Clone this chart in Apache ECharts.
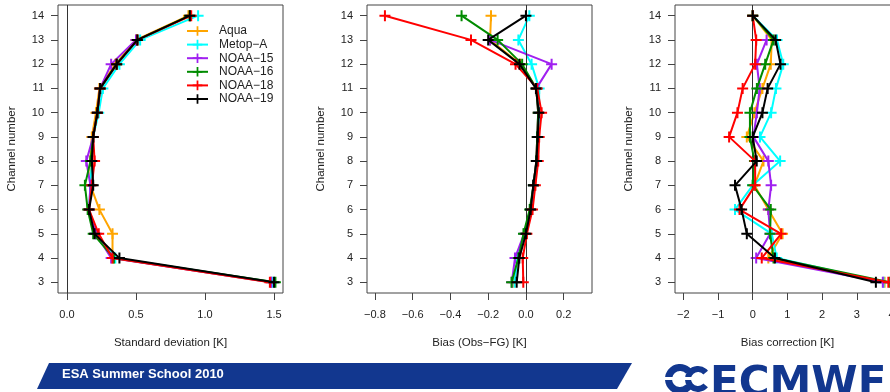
<!DOCTYPE html>
<html>
<head>
<meta charset="utf-8">
<script src="https://cdn.jsdelivr.net/npm/echarts@6/dist/echarts.min.js"></script>
<style>
  html, body { margin: 0; padding: 0; background: #fff; }
  #chart { width: 890px; height: 392px; }
</style>
</head>
<body>
<div id="chart"></div>
<script>
// HIRS channels 3-14, statistics per satellite
const channels = [3, 4, 5, 6, 7, 8, 9, 10, 11, 12, 13, 14];
const satellites = ['Aqua', 'Metop\u2212A', 'NOAA\u221215', 'NOAA\u221216', 'NOAA\u221218', 'NOAA\u221219'];
const satColors = ['#FFA500', '#00FFFF', '#A020F0', '#008B00', '#FF0000', '#000000'];

// Standard deviation of (Obs - FG) [K]
const stdAqua   = [1.48, 0.33, 0.33, 0.235, 0.17, 0.17, 0.18, 0.21, 0.235, 0.35, 0.50, 0.88];
const stdMetopA = [1.49, 0.35, 0.21, 0.16, 0.17, 0.18, 0.19, 0.23, 0.26, 0.38, 0.53, 0.95];
const stdNoaa15 = [1.48, 0.32, 0.21, 0.16, 0.17, 0.14, 0.19, 0.22, 0.24, 0.32, 0.50, null];
const stdNoaa16 = [1.51, 0.34, 0.19, 0.15, 0.13, 0.17, 0.19, 0.22, 0.24, 0.36, 0.51, 0.89];
const stdNoaa18 = [1.47, 0.33, 0.23, 0.16, 0.18, 0.20, 0.19, 0.22, 0.24, 0.36, 0.51, 0.90];
const stdNoaa19 = [1.50, 0.38, 0.20, 0.16, 0.19, 0.18, 0.19, 0.22, 0.24, 0.36, 0.51, 0.89];

// Mean bias (Obs - FG) [K]
const biasAqua   = [-0.07, -0.04, -0.005, 0.025, 0.04, 0.055, 0.06, 0.065, 0.055, -0.03, -0.19, -0.185];
const biasMetopA = [-0.06, -0.045, -0.005, 0.025, 0.04, 0.06, 0.065, 0.07, 0.07, 0.03, -0.04, 0.018];
const biasNoaa15 = [-0.075, -0.058, -0.01, 0.025, 0.04, 0.055, 0.06, 0.065, 0.055, 0.136, -0.19, null];
const biasNoaa16 = [-0.076, -0.04, -0.013, 0.02, 0.04, 0.055, 0.06, 0.065, 0.055, -0.02, -0.15, -0.341];
const biasNoaa18 = [-0.014, -0.017, 0.005, 0.035, 0.05, 0.065, 0.07, 0.083, 0.06, -0.055, -0.291, -0.747];
const biasNoaa19 = [-0.049, -0.035, 0.0, 0.025, 0.039, 0.056, 0.062, 0.068, 0.053, -0.034, -0.2, 0.0];

// Mean bias correction [K]
const bcAqua   = [3.80, 0.45, 0.86, 0.45, 0.05, 0.31, -0.17, 0.05, 0.28, 0.52, 0.55, 0];
const bcMetopA = [3.77, 0.69, 0.55, -0.51, 0.0, 0.79, 0.21, 0.53, 0.67, 0.88, 0.70, 0];
const bcNoaa15 = [3.75, 0.10, 0.50, 0.45, 0.53, 0.45, 0.02, 0.12, 0.20, 0.12, 0.40, null];
const bcNoaa16 = [3.96, 0.60, 0.50, 0.52, 0.0, 0.05, -0.08, -0.08, 0.12, 0.36, 0.60, 0];
const bcNoaa18 = [3.91, 0.26, 0.82, -0.38, 0.07, 0.07, -0.68, -0.44, -0.29, 0.07, 0.10, 0];
const bcNoaa19 = [3.55, 0.64, -0.17, -0.32, -0.51, 0.115, 0.0, 0.28, 0.43, 0.80, 0.66, 0];

// Tick labels
const stdTicks  = [0, 0.5, 1.0, 1.5];
const biasTicks = [-0.8, -0.6, -0.4, -0.2, 0.0, 0.2];
const bcTicks   = [-2, -1, 0, 1, 2, 3, 4];

const panels = [
  { title: 'Standard deviation [K]', sets: [stdAqua, stdMetopA, stdNoaa15, stdNoaa16, stdNoaa18, stdNoaa19],
    min: -0.065, max: 1.565, ticks: stdTicks, digits: 1, left: 58 },
  { title: 'Bias (Obs\u2212FG) [K]', sets: [biasAqua, biasMetopA, biasNoaa15, biasNoaa16, biasNoaa18, biasNoaa19],
    min: -0.842, max: 0.35, ticks: biasTicks, digits: 1, left: 367 },
  { title: 'Bias correction [K]', sets: [bcAqua, bcMetopA, bcNoaa15, bcNoaa16, bcNoaa18, bcNoaa19],
    min: -2.24, max: 4.245, ticks: bcTicks, digits: 0, left: 675 }
];

const FONT = '"Liberation Sans", Arial, Helvetica, sans-serif';
const TEXT = '#222';
const PLUS = 'path://M4.5,0H6.5V4.5H11V6.5H6.5V11H4.5V6.5H0V4.5H4.5Z';
const fmt = (v, d) => (d ? v.toFixed(d) : String(Math.round(v))).replace('-', '\u2212');

const grid = [], xAxis = [], yAxis = [], series = [];
panels.forEach((p, pi) => {
  grid.push({ left: p.left, top: 5, width: 225, height: 288, show: true,
              outerBoundsMode: 'none', containLabel: false,
              borderColor: '#444', borderWidth: 1, backgroundColor: 'transparent' });
  xAxis.push({
    type: 'value', gridIndex: pi, min: p.min, max: p.max,
    name: p.title, nameLocation: 'middle', nameGap: 44,
    nameTextStyle: { fontFamily: FONT, fontSize: 11.5, color: TEXT },
    axisLine: { show: false, onZero: false }, splitLine: { show: false },
    axisTick: { show: true, inside: false, length: 7, customValues: p.ticks, lineStyle: { color: '#444' } },
    axisLabel: { customValues: p.ticks, margin: 16, fontFamily: FONT, fontSize: 11, color: TEXT,
                 formatter: v => fmt(v, p.digits) }
  });
  yAxis.push({
    type: 'value', gridIndex: pi, min: 2.56, max: 14.44,
    name: 'Channel number', nameLocation: 'middle', nameGap: 40, nameRotate: 90,
    nameTextStyle: { fontFamily: FONT, fontSize: 11.5, color: TEXT },
    axisLine: { show: false, onZero: false }, splitLine: { show: false },
    axisTick: { show: true, inside: false, length: 7, customValues: channels, lineStyle: { color: '#444' } },
    axisLabel: { customValues: channels, margin: 14, fontFamily: FONT, fontSize: 11, color: TEXT,
                 formatter: v => String(Math.round(v)) }
  });
  p.sets.forEach((vals, si) => {
    const s = {
      name: satellites[si], type: 'line', xAxisIndex: pi, yAxisIndex: pi,
      data: channels.map((c, k) => [vals[k], c]),
      connectNulls: false,
      symbol: PLUS, symbolSize: 11, showSymbol: true,
      lineStyle: { color: satColors[si], width: 2 },
      itemStyle: { color: satColors[si] },
      emphasis: { disabled: true },
      animation: false, z: 2 + si
    };
    if (si === 0) {
      // vertical reference line at zero
      s.markLine = { silent: true, symbol: ['none', 'none'], label: { show: false },
                     lineStyle: { color: '#333', width: 1, type: 'solid' },
                     data: [{ xAxis: 0 }], animation: false };
    }
    series.push(s);
  });
});

const chart = echarts.init(document.getElementById('chart'), null, { renderer: 'canvas' });
chart.setOption({
  backgroundColor: '#ffffff',
  animation: false,
  grid, xAxis, yAxis, series,
  legend: {
    data: satellites, orient: 'vertical', left: 186, top: 25, padding: 0,
    itemWidth: 21, itemHeight: 12, itemGap: 1.6,
    textStyle: { fontFamily: FONT, fontSize: 12, color: TEXT, padding: [0, 0, 0, 6] },
    selectedMode: false
  },
  graphic: [
    // footer banner
    { type: 'polygon', silent: true,
      shape: { points: [[49, 363], [632, 363], [617, 389], [37, 389]] },
      style: { fill: '#12378F' } },
    { type: 'text', silent: true, x: 62, y: 374,
      style: { text: 'ESA Summer School 2010', fill: '#ffffff',
               font: 'bold 13px "Liberation Sans", Arial, sans-serif', verticalAlign: 'middle' } },
    // ECMWF logo
    { type: 'sector', silent: true,
      shape: { cx: 680, cy: 379, r: 15, r0: 8, startAngle: 0.7, endAngle: 2 * Math.PI - 0.7, clockwise: true },
      style: { fill: '#12378F' } },
    { type: 'sector', silent: true,
      shape: { cx: 698, cy: 379, r: 13, r0: 7, startAngle: 0.7, endAngle: 2 * Math.PI - 0.7, clockwise: true },
      style: { fill: '#12378F' } },
    { type: 'rect', silent: true, shape: { x: 665, y: 377, width: 46, height: 3 }, style: { fill: '#ffffff' } },
    { type: 'text', silent: true, x: 710, y: 406,
      style: { text: 'ECMWF', fill: '#12378F', font: '900 42px "DejaVu Sans", sans-serif',
               verticalAlign: 'bottom' } }
  ]
});
</script>
</body>
</html>
